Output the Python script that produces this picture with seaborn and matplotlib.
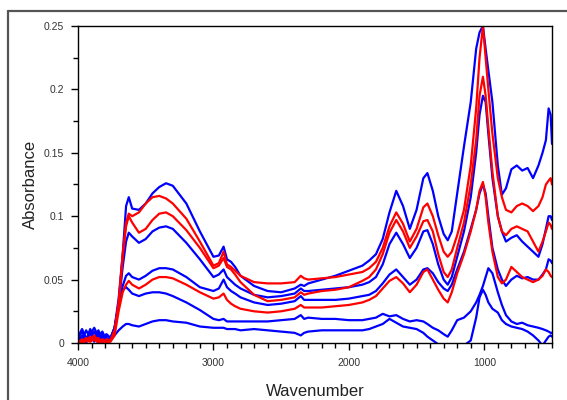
import numpy as np
import pandas as pd
import matplotlib
matplotlib.use("Agg")
import matplotlib.pyplot as plt
from matplotlib.lines import Line2D
from matplotlib.ticker import MultipleLocator, FixedLocator
import seaborn as sns

# wavenumber grid (cm-1), shared by all spectra
wavenumber = [
    4000, 3970, 3940, 3910, 3880, 3850, 3820, 3790, 3760, 3730,
    3700, 3670, 3645, 3625, 3600, 3550, 3500, 3450, 3400, 3350,
    3300, 3200, 3100, 3000, 2960, 2925, 2900, 2870, 2840, 2800,
    2700, 2600, 2500, 2400, 2355, 2330, 2300, 2200, 2100, 2000,
    1900, 1850, 1800, 1750, 1700, 1650, 1600, 1550, 1500, 1450,
    1420, 1380, 1340, 1300, 1270, 1240, 1200, 1150, 1100, 1060,
    1035, 1010, 990, 970, 940, 900, 870, 840, 800, 760,
    720, 680, 640, 600, 570, 545, 525, 510, 500,
]

blue_1 = [
    0.004, 0.009, 0.002, 0.011, 0.003, 0.008, 0.001, 0.006, 0.004, 0.012,
    0.035, 0.070, 0.108, 0.115, 0.106, 0.105, 0.110, 0.118, 0.123, 0.126,
    0.124, 0.110, 0.088, 0.068, 0.069, 0.076, 0.066, 0.064, 0.060, 0.053,
    0.045, 0.041, 0.040, 0.043, 0.046, 0.045, 0.047, 0.050, 0.053, 0.057,
    0.061, 0.065, 0.070, 0.082, 0.103, 0.120, 0.108, 0.090, 0.105, 0.130,
    0.134, 0.120, 0.100, 0.086, 0.081, 0.088, 0.118, 0.155, 0.190, 0.232,
    0.245, 0.250, 0.232, 0.215, 0.190, 0.140, 0.117, 0.122, 0.137, 0.140,
    0.136, 0.138, 0.130, 0.140, 0.150, 0.160, 0.185, 0.180, 0.157,
]
blue_2 = [
    0.007, 0.002, 0.010, 0.004, 0.009, 0.002, 0.007, 0.003, 0.003, 0.012,
    0.030, 0.060, 0.080, 0.087, 0.084, 0.079, 0.082, 0.088, 0.091, 0.092,
    0.090, 0.079, 0.066, 0.052, 0.054, 0.058, 0.052, 0.049, 0.046, 0.043,
    0.038, 0.036, 0.037, 0.039, 0.043, 0.041, 0.041, 0.042, 0.043, 0.044,
    0.046, 0.048, 0.052, 0.062, 0.078, 0.087, 0.078, 0.067, 0.075, 0.088,
    0.089, 0.078, 0.062, 0.050, 0.046, 0.052, 0.068, 0.088, 0.115, 0.150,
    0.180, 0.195, 0.190, 0.165, 0.130, 0.100, 0.088, 0.080, 0.083, 0.085,
    0.080, 0.076, 0.072, 0.068, 0.078, 0.090, 0.100, 0.100, 0.097,
]
blue_3 = [
    0.001, 0.006, 0.003, 0.008, 0.001, 0.010, 0.004, 0.007, 0.004, 0.012,
    0.030, 0.045, 0.053, 0.055, 0.052, 0.050, 0.053, 0.057, 0.059, 0.059,
    0.058, 0.052, 0.044, 0.041, 0.043, 0.050, 0.044, 0.041, 0.039, 0.036,
    0.032, 0.030, 0.031, 0.033, 0.037, 0.034, 0.034, 0.034, 0.034, 0.035,
    0.037, 0.038, 0.041, 0.047, 0.054, 0.058, 0.052, 0.046, 0.050, 0.058,
    0.059, 0.055, 0.048, 0.043, 0.041, 0.046, 0.058, 0.072, 0.090, 0.105,
    0.118, 0.125, 0.118, 0.100, 0.075, 0.058, 0.050, 0.045, 0.050, 0.053,
    0.051, 0.052, 0.050, 0.050, 0.054, 0.058, 0.066, 0.065, 0.063,
]
blue_4 = [
    0.005, 0.011, 0.004, 0.007, 0.012, 0.005, 0.009, 0.002, 0.003, 0.010,
    0.030, 0.042, 0.044, 0.042, 0.039, 0.037, 0.039, 0.040, 0.040, 0.039,
    0.037, 0.032, 0.026, 0.019, 0.018, 0.019, 0.017, 0.017, 0.017, 0.017,
    0.017, 0.017, 0.018, 0.019, 0.022, 0.019, 0.020, 0.019, 0.019, 0.018,
    0.018, 0.019, 0.020, 0.023, 0.021, 0.022, 0.019, 0.017, 0.018, 0.017,
    0.015, 0.012, 0.010, 0.007, 0.005, 0.010, 0.018, 0.020, 0.025, 0.032,
    0.038, 0.045, 0.052, 0.059, 0.055, 0.040, 0.030, 0.022, 0.017, 0.015,
    0.016, 0.014, 0.013, 0.012, 0.011, 0.010, 0.009, 0.008, 0.008,
]
blue_5 = [
    0.002, 0.005, 0.000, 0.006, 0.003, 0.007, 0.002, 0.004, 0.002, 0.006,
    0.010, 0.013, 0.015, 0.015, 0.014, 0.013, 0.015, 0.017, 0.018, 0.018,
    0.017, 0.016, 0.013, 0.012, 0.012, 0.012, 0.011, 0.011, 0.011, 0.010,
    0.011, 0.010, 0.009, 0.008, 0.006, 0.008, 0.009, 0.010, 0.010, 0.010,
    0.010, 0.011, 0.013, 0.015, 0.019, 0.016, 0.013, 0.012, 0.011, 0.008,
    0.005, 0.002, -0.001, -0.003, -0.004, -0.004, -0.003, -0.002, 0.002, 0.020,
    0.036, 0.042, 0.038, 0.032, 0.027, 0.024, 0.018, 0.015, 0.013, 0.012,
    0.011, 0.009, 0.006, 0.002, -0.002, 0.002, 0.005, 0.006, 0.005,
]
red_1 = [
    0.002, 0.001, 0.004, 0.002, 0.006, 0.001, 0.003, 0.000, 0.002, 0.008,
    0.030, 0.070, 0.095, 0.102, 0.100, 0.103, 0.110, 0.115, 0.116, 0.114,
    0.110, 0.098, 0.080, 0.061, 0.063, 0.072, 0.062, 0.060, 0.057, 0.053,
    0.048, 0.047, 0.047, 0.048, 0.053, 0.051, 0.050, 0.051, 0.052, 0.054,
    0.056, 0.059, 0.064, 0.075, 0.092, 0.103, 0.094, 0.080, 0.090, 0.107,
    0.110, 0.100, 0.085, 0.072, 0.068, 0.072, 0.085, 0.105, 0.140, 0.185,
    0.225, 0.250, 0.225, 0.200, 0.165, 0.130, 0.115, 0.105, 0.103, 0.108,
    0.110, 0.108, 0.104, 0.108, 0.115, 0.125, 0.128, 0.130, 0.125,
]
red_2 = [
    0.000, 0.003, 0.001, 0.005, 0.002, 0.004, 0.000, 0.003, 0.002, 0.010,
    0.032, 0.068, 0.092, 0.100, 0.095, 0.087, 0.090, 0.097, 0.102, 0.103,
    0.100, 0.089, 0.075, 0.059, 0.061, 0.067, 0.060, 0.058, 0.054, 0.048,
    0.038, 0.033, 0.034, 0.036, 0.040, 0.038, 0.039, 0.041, 0.042, 0.044,
    0.049, 0.052, 0.058, 0.070, 0.087, 0.097, 0.088, 0.075, 0.084, 0.096,
    0.097, 0.088, 0.070, 0.056, 0.052, 0.058, 0.075, 0.095, 0.125, 0.160,
    0.195, 0.210, 0.195, 0.170, 0.135, 0.100, 0.088, 0.085, 0.090, 0.092,
    0.090, 0.088, 0.080, 0.072, 0.080, 0.088, 0.095, 0.093, 0.090,
]
red_3 = [
    0.001, 0.000, 0.002, 0.001, 0.003, 0.000, 0.002, 0.001, 0.001, 0.006,
    0.025, 0.040, 0.046, 0.049, 0.046, 0.043, 0.046, 0.050, 0.052, 0.052,
    0.051, 0.046, 0.040, 0.035, 0.036, 0.039, 0.034, 0.031, 0.029, 0.027,
    0.025, 0.024, 0.025, 0.027, 0.030, 0.028, 0.028, 0.028, 0.029, 0.030,
    0.032, 0.034, 0.037, 0.043, 0.049, 0.052, 0.047, 0.040, 0.046, 0.056,
    0.058, 0.050, 0.042, 0.035, 0.032, 0.040, 0.055, 0.070, 0.088, 0.105,
    0.120, 0.127, 0.115, 0.095, 0.072, 0.052, 0.047, 0.050, 0.060, 0.056,
    0.052, 0.050, 0.048, 0.050, 0.053, 0.058, 0.056, 0.053, 0.052,
]

sample_names = ["b1", "b2", "b3", "b4", "b5", "r1", "r2", "r3"]
sample_colors = ["#0000ff"] * 5 + ["#ff0000"] * 3
spectra = [blue_1, blue_2, blue_3, blue_4, blue_5, red_1, red_2, red_3]

sns.set_style("white")
plt.rcParams['font.family'] = ['Liberation Sans', 'DejaVu Sans']

frames = []
for name, vals in zip(sample_names, spectra):
    frames.append(pd.DataFrame({"wavenumber": wavenumber, "absorbance": vals, "sample": name}))
df = pd.concat(frames, ignore_index=True)

W, H = 567, 400
fig = plt.figure(figsize=(W / 100, H / 100), dpi=100)
fig.patch.set_facecolor("white")
ax = fig.add_axes([78 / W, 1 - 343 / H, (552 - 78) / W, (343 - 26) / H])

sns.lineplot(data=df, x="wavenumber", y="absorbance", hue="sample",
             hue_order=sample_names, palette=dict(zip(sample_names, sample_colors)),
             sort=False, estimator=None, legend=False, linewidth=1.6, ax=ax)

ax.set_xlim(4000, 500)
ax.set_ylim(0, 0.25)

# ticks
ax.xaxis.set_major_locator(FixedLocator([4000, 3000, 2000, 1000]))
ax.xaxis.set_minor_locator(MultipleLocator(100))
ax.set_xticklabels(["4000", "3000", "2000", "1000"])
ax.yaxis.set_major_locator(FixedLocator([0, 0.05, 0.1, 0.15, 0.2, 0.25]))
ax.yaxis.set_minor_locator(MultipleLocator(0.025))
ax.set_yticklabels(["0", "0.05", "0.1", "0.15", "0.2", "0.25"])
ax.tick_params(which="major", direction="out", length=5, width=1, color="black",
               labelsize=7.5, labelcolor="#333333", pad=6,
               left=True, bottom=True)
ax.tick_params(which="minor", direction="out", length=3.5, width=1, color="black",
               left=True, bottom=True)
ax.tick_params(axis="y", which="major", pad=5)

for sp in ax.spines.values():
    sp.set_color("black")
    sp.set_linewidth(1.0)

ax.set_xlabel("Wavenumber", fontsize=12, color="#222222", labelpad=11)
ax.set_ylabel("Absorbance", fontsize=12, color="#222222", labelpad=4)

# outer frame around the picture
fig.add_artist(Line2D([8 / W, 1], [1 - 11 / H, 1 - 11 / H], transform=fig.transFigure,
                      color="#555555", linewidth=1.6))
fig.add_artist(Line2D([8 / W, 8 / W], [0, 1 - 11 / H], transform=fig.transFigure,
                      color="#555555", linewidth=1.6))

fig.savefig("out.png", dpi=100)
